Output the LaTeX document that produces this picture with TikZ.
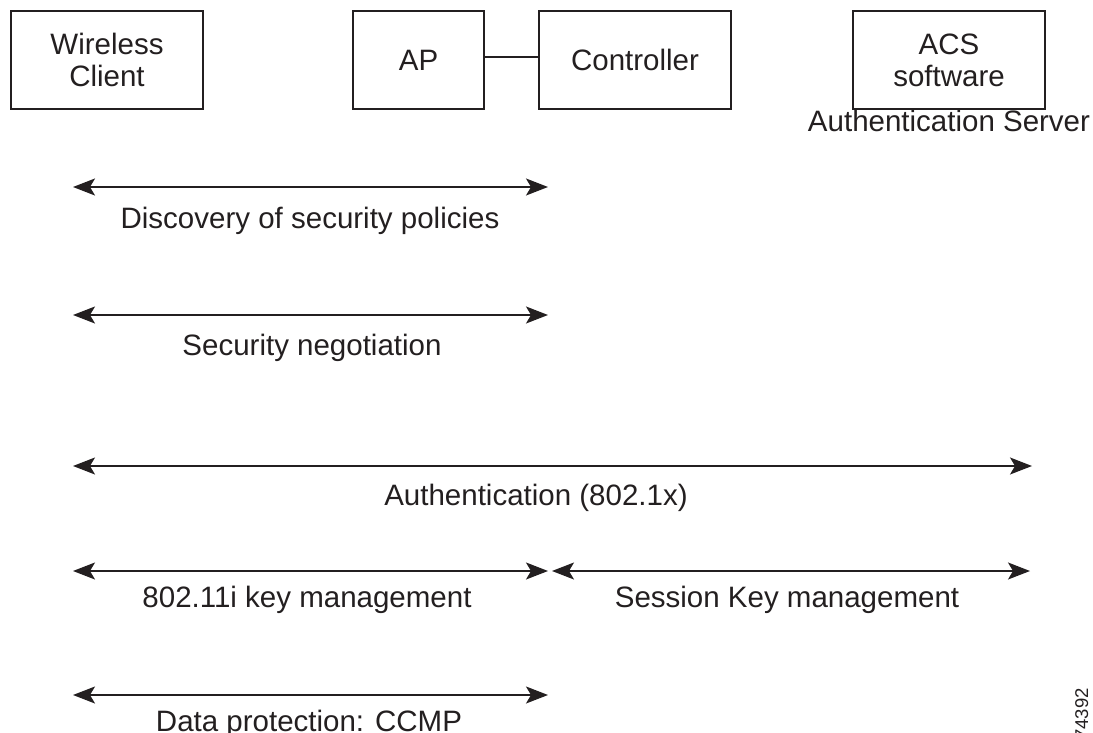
\documentclass[tikz,border=0pt]{standalone}
\usepackage{fontspec}
\setmainfont{Liberation Sans}
\usetikzlibrary{arrows.meta}
\definecolor{ink}{HTML}{231F20}
\begin{document}
\begin{tikzpicture}[x=1pt,y=1pt,
  every node/.style={text=ink},
  entity/.style={draw=ink,line width=1.3pt,minimum height=98pt,inner sep=0pt,
    align=center,font=\fontsize{29.5}{32}\selectfont},
  lbl/.style={anchor=base,font=\fontsize{29.5}{32}\selectfont},
  flow/.style={draw=ink,line width=1.3pt,
    {Stealth[length=22pt,width=17pt,inset=5pt]}-{Stealth[length=22pt,width=17pt,inset=5pt]}}]
\useasboundingbox (0,0) rectangle (1093,-733);

% participants
\node[entity,minimum width=192pt] (wc)   at (107,-60)   {Wireless\\Client};
\node[entity,minimum width=131pt] (ap)   at (418.5,-60) {AP};
\node[entity,minimum width=192pt] (ctrl) at (635,-60)   {Controller};
\node[entity,minimum width=192pt] (acs)  at (949,-60)   {ACS\\software};
\node[lbl] (srv) at (949,-132) {Authentication Server};
\draw[ink,line width=1.3pt] ([yshift=3pt]ap.east) -- ([yshift=3pt]ctrl.west);

% message end points
\coordinate (a1) at (73,-187);  \coordinate (b1) at (548,-187);
\coordinate (a2) at (73,-315);  \coordinate (b2) at (548,-315);
\coordinate (a3) at (73,-466);  \coordinate (b3) at (1032,-466);
\coordinate (a4) at (73,-571);  \coordinate (b4) at (548,-571);
\coordinate (c4) at (552,-571); \coordinate (d4) at (1030,-571);
\coordinate (a5) at (73,-695);  \coordinate (b5) at (548,-695);

% exchanges
\draw[flow] (a1) -- (b1);
\node[lbl] (t1) at (310,-229) {Discovery of security policies};
\draw[flow] (a2) -- (b2);
\node[lbl] (t2) at (312,-355) {Security negotiation};
\draw[flow] (a3) -- (b3);
\node[lbl] (t3) at (536,-505) {Authentication (802.1x)};
\draw[flow] (a4) -- (b4);
\node[lbl] (t4) at (307,-607) {802.11i key management};
\draw[flow] (c4) -- (d4);
\node[lbl] (t5) at (787,-607) {Session Key management};
\draw[flow] (a5) -- (b5);
\node[lbl] (t6) at (309,-731) {Data protection: CCMP};

% figure number
\node[rotate=90,anchor=base east,inner sep=0pt,font=\fontsize{18.5}{20}\selectfont]
  (fig) at (1088,-688) {74392};
\end{tikzpicture}
\end{document}
